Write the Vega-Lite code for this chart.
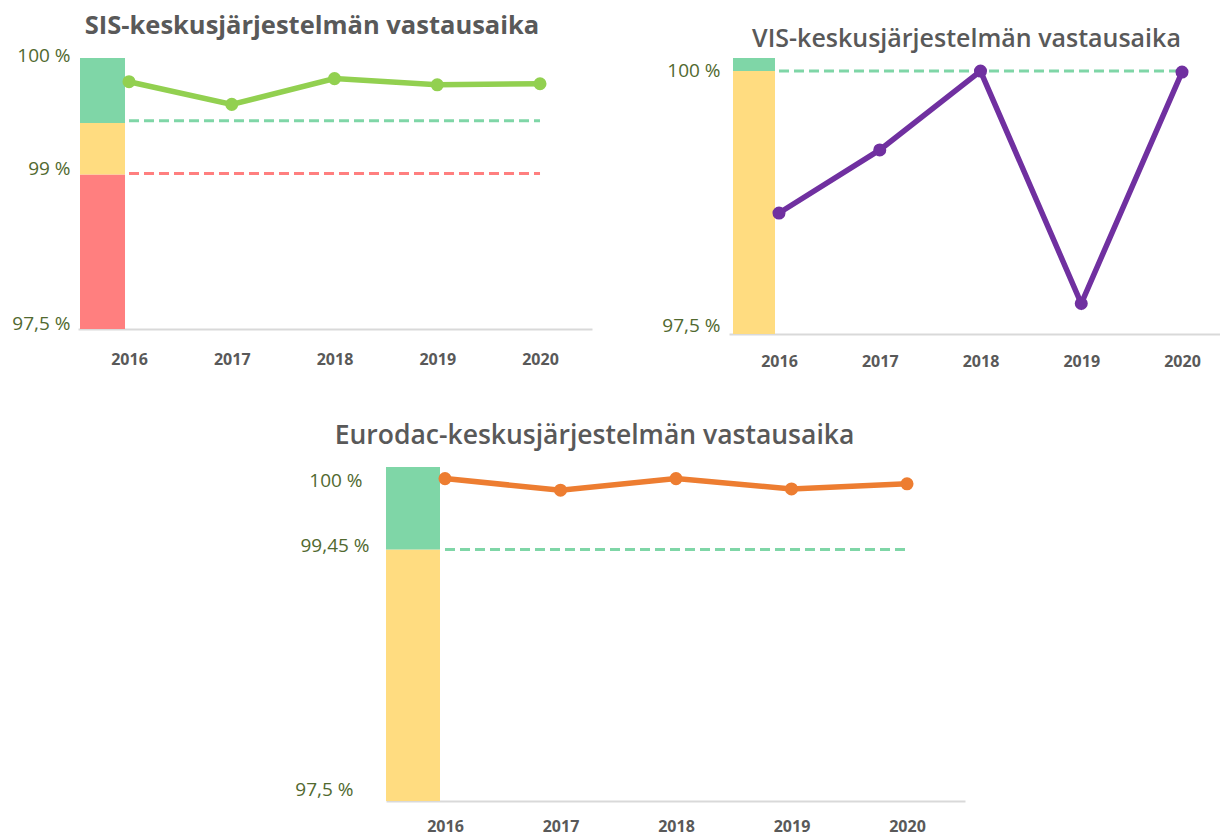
{
  "$schema": "https://vega.github.io/schema/vega-lite/v6.json",
  "background": "white",
  "padding": {"left": 11, "top": 13, "right": 0, "bottom": 3},
  "config": {
    "view": {"stroke": null},
    "font": "Open Sans",
    "axisX": {
      "domainColor": "#d9d9d9", "domainWidth": 2, "ticks": false, "tickSize": 0, "grid": false,
      "labelFont": "Open Sans", "labelFontWeight": "bold", "labelFontSize": 16, "labelColor": "#595959",
      "labelBaseline": "middle", "labelFlush": false, "labelOverlap": false, "labelBound": false
    },
    "axisY": {
      "domain": false, "ticks": false, "tickSize": 0, "grid": false,
      "labelFont": "Open Sans", "labelFontSize": 19, "labelColor": "#51692f",
      "labelFlush": false, "labelOverlap": false, "labelBound": false, "labelBaseline": "middle"
    },
    "title": {"font": "Open Sans", "color": "#595959", "frame": "group", "anchor": "middle", "baseline": "bottom", "fontSize": 26}
  },
  "datasets": {
    "sis_bands": [
      {"year": 2016, "band": "punainen", "lo": 97.5, "hi": 99},
      {"year": 2016, "band": "keltainen", "lo": 99, "hi": 99.5},
      {"year": 2016, "band": "vihreä", "lo": 99.5, "hi": 100.13}
    ],
    "sis_ref": [
      {"start": 2016, "end": 2020, "level": 99.52, "band": "vihreä"},
      {"start": 2016, "end": 2020, "level": 99.01, "band": "punainen"}
    ],
    "sis_line": [
      {"year": 2016, "v": 99.90},
      {"year": 2017, "v": 99.68},
      {"year": 2018, "v": 99.93},
      {"year": 2019, "v": 99.87},
      {"year": 2020, "v": 99.88}
    ],
    "vis_bands": [
      {"year": 2016, "band": "keltainen", "lo": 97.5, "hi": 100},
      {"year": 2016, "band": "vihreä", "lo": 100, "hi": 100.124}
    ],
    "vis_ref": [
      {"start": 2016, "end": 2020, "level": 100, "band": "vihreä"}
    ],
    "vis_line": [
      {"year": 2016, "v": 98.65},
      {"year": 2017, "v": 99.25},
      {"year": 2018, "v": 100.0},
      {"year": 2019, "v": 97.79},
      {"year": 2020, "v": 99.99}
    ],
    "eu_bands": [
      {"year": 2016, "band": "keltainen", "lo": 97.5, "hi": 99.45},
      {"year": 2016, "band": "vihreä", "lo": 99.45, "hi": 100.09}
    ],
    "eu_ref": [
      {"start": 2016, "end": 2020, "level": 99.45, "band": "vihreä"}
    ],
    "eu_line": [
      {"year": 2016, "v": 100.0},
      {"year": 2017, "v": 99.91},
      {"year": 2018, "v": 100.0},
      {"year": 2019, "v": 99.92},
      {"year": 2020, "v": 99.96}
    ]
  },
  "bounds": "flush",
  "spacing": 0,
  "vconcat": [
    {
      "bounds": "flush",
      "spacing": 137,
      "hconcat": [
        {
          "width": 514, "height": 271,
          "title": {"text": "SIS-keskusjärjestelmän vastausaika", "dx": -23, "offset": 7, "fontWeight": "bold", "fontSize": 25.5},
          "layer": [
            {
              "data": {"name": "sis_bands"},
              "mark": {"type": "bar", "width": 45, "xOffset": -26.5},
              "encoding": {
                "x": {"field": "year", "type": "quantitative", "title": null,
                      "scale": {"domain": [2015.5036, 2020.506], "nice": false, "zero": false, "padding": 0},
                      "axis": {"values": [2016, 2017, 2018, 2019, 2020], "format": "d", "labelPadding": 30}},
                "y": {"field": "lo", "type": "quantitative", "title": null,
                      "scale": {"domain": [97.5, 100.13], "nice": false, "zero": false, "padding": 0},
                      "axis": {"values": [97.5, 99, 100], "labelPadding": 8,
                               "labelExpr": "replace(format(datum.value, '.2~f'), '.', ',') + ' %'",
                               "labelOffset": {"condition": {"test": "datum.value == 100", "value": -16}, "value": -6}}},
                "y2": {"field": "hi"},
                "color": {"field": "band", "type": "nominal", "legend": null,
                          "scale": {"domain": ["punainen", "keltainen", "vihreä"], "range": ["#ff7f7f", "#ffdc80", "#7fd6a7"]}}
              }
            },
            {
              "data": {"name": "sis_ref"},
              "mark": {"type": "rule", "strokeDash": [10, 5], "strokeWidth": 3},
              "encoding": {
                "x": {"field": "start", "type": "quantitative", "title": null},
                "x2": {"field": "end"},
                "y": {"field": "level", "type": "quantitative", "title": null},
                "color": {"field": "band", "type": "nominal", "legend": null}
              }
            },
            {
              "data": {"name": "sis_line"},
              "mark": {"type": "line", "color": "#92d050", "strokeWidth": 5.5, "point": {"filled": true, "size": 170, "color": "#92d050"}},
              "encoding": {
                "x": {"field": "year", "type": "quantitative", "title": null},
                "y": {"field": "v", "type": "quantitative", "title": null}
              }
            }
          ]
        },
        {
          "width": 491, "height": 276,
          "title": {"text": "VIS-keskusjärjestelmän vastausaika", "dx": -8, "offset": 6, "fontWeight": 600, "fontSize": 25},
          "layer": [
            {
              "data": {"name": "vis_bands"},
              "mark": {"type": "bar", "width": 42, "xOffset": -25},
              "encoding": {
                "x": {"field": "year", "type": "quantitative", "title": null,
                      "scale": {"domain": [2015.5037, 2020.377], "nice": false, "zero": false, "padding": 0},
                      "axis": {"values": [2016, 2017, 2018, 2019, 2020], "format": "d", "labelPadding": 27}},
                "y": {"field": "lo", "type": "quantitative", "title": null,
                      "scale": {"domain": [97.5, 100.124], "nice": false, "zero": false, "padding": 0},
                      "axis": {"values": [97.5, 100], "labelPadding": 9,
                               "labelExpr": "replace(format(datum.value, '.2~f'), '.', ',') + ' %'",
                               "labelOffset": {"condition": {"test": "datum.value == 100", "value": -1}, "value": -9}}},
                "y2": {"field": "hi"},
                "color": {"field": "band", "type": "nominal", "legend": null}
              }
            },
            {
              "data": {"name": "vis_ref"},
              "mark": {"type": "rule", "strokeDash": [10, 5], "strokeWidth": 3},
              "encoding": {
                "x": {"field": "start", "type": "quantitative", "title": null},
                "x2": {"field": "end"},
                "y": {"field": "level", "type": "quantitative", "title": null},
                "color": {"field": "band", "type": "nominal", "legend": null}
              }
            },
            {
              "data": {"name": "vis_line"},
              "mark": {"type": "line", "color": "#7030a0", "strokeWidth": 5.5, "point": {"filled": true, "size": 170, "color": "#7030a0"}},
              "encoding": {
                "x": {"field": "year", "type": "quantitative", "title": null},
                "y": {"field": "v", "type": "quantitative", "title": null}
              }
            }
          ]
        }
      ]
    },
    {
      "width": 1, "height": 409,
      "data": {"values": []},
      "mark": "point"
    },
    {
      "bounds": "flush",
      "spacing": 0,
      "hconcat": [
        {
          "width": 308, "height": 1,
          "data": {"values": []},
          "mark": "point"
        },
        {
          "width": 579, "height": 334,
          "title": {"text": "Eurodac-keskusjärjestelmän vastausaika", "dx": -81, "offset": 18, "fontWeight": 600, "fontSize": 26.5},
          "layer": [
            {
              "data": {"name": "eu_bands"},
              "mark": {"type": "bar", "width": 54, "xOffset": -32},
              "encoding": {
                "x": {"field": "year", "type": "quantitative", "title": null,
                      "scale": {"domain": [2015.4892, 2020.502], "nice": false, "zero": false, "padding": 0},
                      "axis": {"values": [2016, 2017, 2018, 2019, 2020], "format": "d", "labelPadding": 25}},
                "y": {"field": "lo", "type": "quantitative", "title": null,
                      "scale": {"domain": [97.5, 100.09], "nice": false, "zero": false, "padding": 0},
                      "axis": {"values": [97.5, 99.45, 100],
                               "labelExpr": "replace(format(datum.value, '.2~f'), '.', ',') + ' %'",
                               "labelPadding": {"condition": [{"test": "datum.value == 100", "value": 24}, {"test": "datum.value == 99.45", "value": 17}], "value": 33},
                               "labelOffset": {"condition": [{"test": "datum.value == 100", "value": 2}, {"test": "datum.value == 99.45", "value": -4}], "value": -12}}},
                "y2": {"field": "hi"},
                "color": {"field": "band", "type": "nominal", "legend": null}
              }
            },
            {
              "data": {"name": "eu_ref"},
              "mark": {"type": "rule", "strokeDash": [10, 5], "strokeWidth": 3},
              "encoding": {
                "x": {"field": "start", "type": "quantitative", "title": null},
                "x2": {"field": "end"},
                "y": {"field": "level", "type": "quantitative", "title": null},
                "color": {"field": "band", "type": "nominal", "legend": null}
              }
            },
            {
              "data": {"name": "eu_line"},
              "mark": {"type": "line", "color": "#ed7d31", "strokeWidth": 5.5, "point": {"filled": true, "size": 170, "color": "#ed7d31"}},
              "encoding": {
                "x": {"field": "year", "type": "quantitative", "title": null},
                "y": {"field": "v", "type": "quantitative", "title": null}
              }
            }
          ]
        }
      ]
    }
  ]
}
